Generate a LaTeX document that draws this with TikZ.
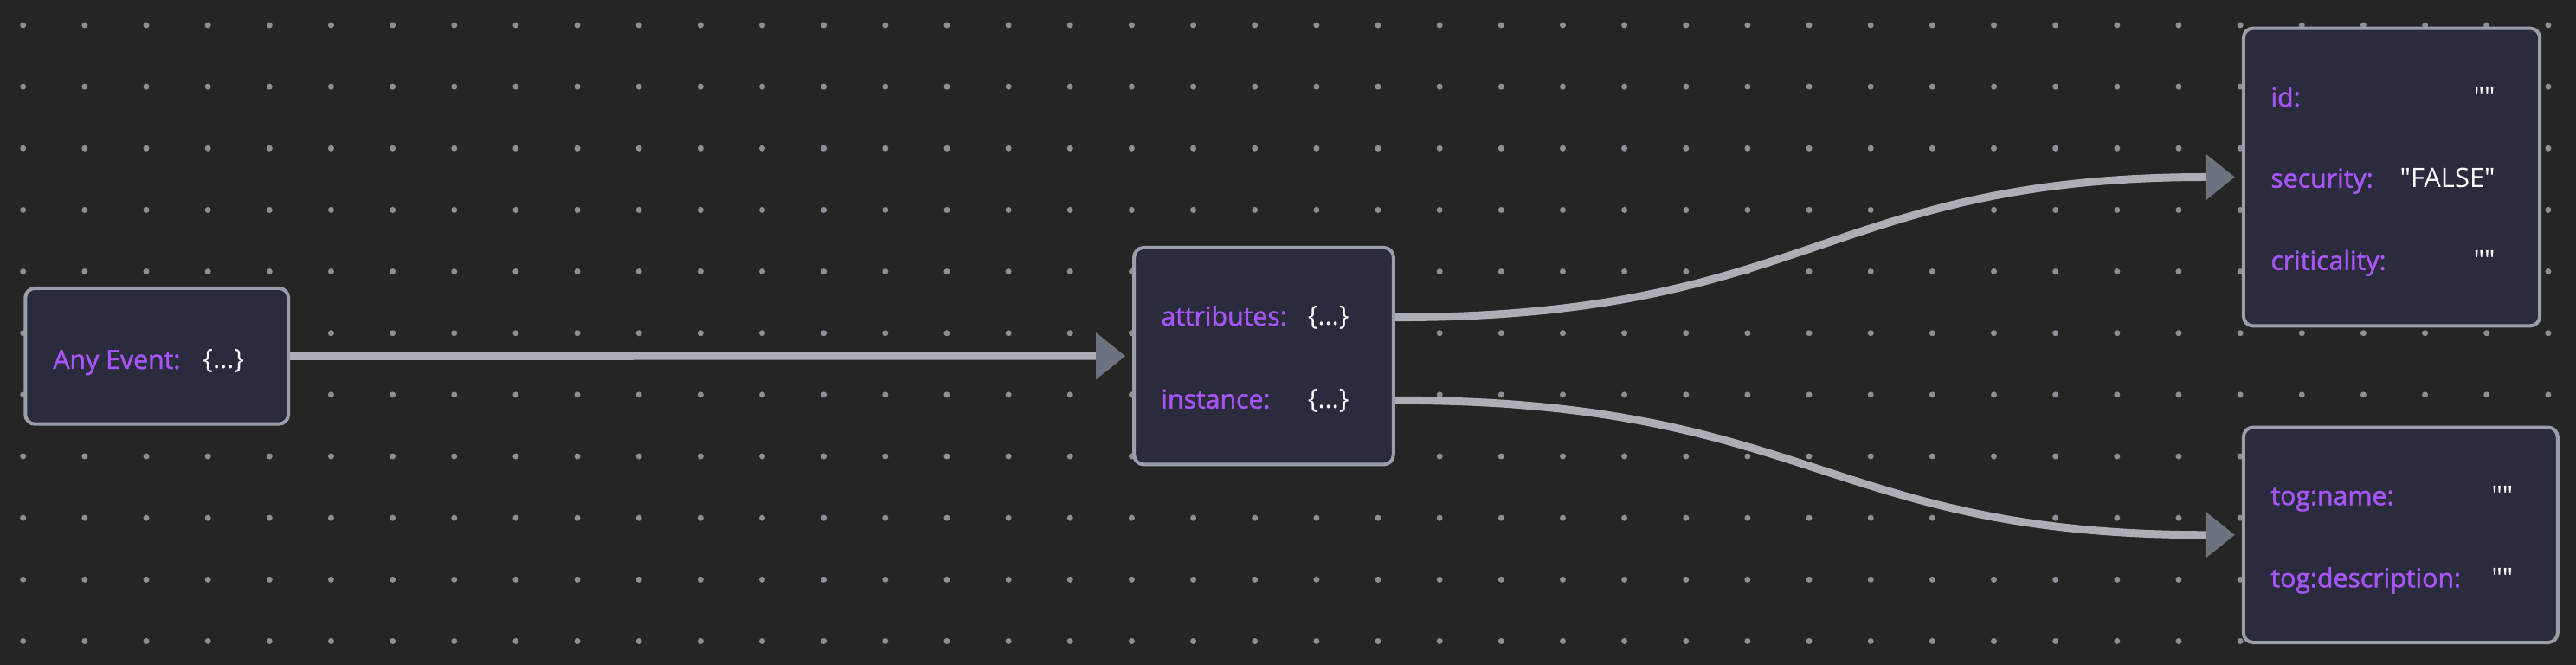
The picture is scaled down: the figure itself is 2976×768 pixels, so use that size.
\documentclass[tikz,border=0pt]{standalone}
\usepackage{fontspec}
\setmainfont{Open Sans}[Ligatures=TeXOff]
\newfontfamily\keyfont{Open Sans}[Ligatures=TeXOff, FakeBold=1.4]
\usetikzlibrary{arrows.meta}

\definecolor{canvas}{HTML}{252525}
\definecolor{griddot}{HTML}{8E8E96}
\definecolor{cardfill}{HTML}{2A2B3D}
\definecolor{cardline}{HTML}{9A9EAB}
\definecolor{keycol}{HTML}{A855F7}
\definecolor{linkcol}{HTML}{ADADB5}
\definecolor{tipcol}{HTML}{6B7280}

\tikzset{
  card/.style={draw=cardline, fill=cardfill, line width=0.04cm, rounded corners=0.11cm, inner sep=0pt},
  key/.style={anchor=base west, text=keycol, inner sep=0pt, font=\keyfont\fontsize{8.6pt}{10pt}\selectfont},
  val/.style={anchor=base east, text=white, inner sep=0pt, font=\fontsize{8.8pt}{10pt}\selectfont},
  link/.style={line width=0.09cm, draw=linkcol, shorten >=0.08cm,
    -{Triangle[length=0.34cm, width=0.52cm, color=tipcol]}}
}

\begin{document}
\begin{tikzpicture}[x=0.01cm, y=-0.01cm]
    % 1. Canvas
    \fill[canvas] (0,0) rectangle (2976,768);
    \useasboundingbox (0,0) rectangle (2976,768);

    % 2. Dot grid
    \foreach \i in {0,...,41}
        \foreach \j in {0,...,10}
            \fill[griddot] ({26.7+71.15*\i}, {29+71.15*\j}) circle (0.035cm);

    % 3. Cards
    \node[card, minimum width=3.037cm, minimum height=1.567cm] (event) at (181.2, 411.3) {};
    \node[card, minimum width=2.994cm, minimum height=2.503cm] (body) at (1460, 411.2) {};
    \node[card, minimum width=3.42cm, minimum height=3.436cm] (attrs) at (2763, 204.5) {};
    \node[card, minimum width=3.627cm, minimum height=2.483cm] (inst) at (2773.3, 617.8) {};

    % 4. Rows: keys and values
    % Any Event
    \node[key] (eventK) at (60.7, 426) {Any Event:};
    \node[val] (eventV) at (282.7, 426) {\{…\}};
    % attributes / instance
    \node[key] (attrK) at (1340.7, 376) {attributes:};
    \node[val] (attrV) at (1559.3, 376) {\{…\}};
    \node[key] (instK) at (1340.7, 471.7) {instance:};
    \node[val] (instV) at (1559.3, 471.7) {\{…\}};
    % id / security / criticality
    \node[key] (idK) at (2622.7, 123) {id:};
    \node[val] (idV) at (2883.3, 123) {""};
    \node[key] (secK) at (2622.7, 216.7) {security:};
    \node[val] (secV) at (2883.3, 216.7) {"FALSE"};
    \node[key] (critK) at (2622.7, 311.7) {criticality:};
    \node[val] (critV) at (2883.3, 311.7) {""};
    % tog:name / tog:description
    \node[key] (nameK) at (2622.7, 583.3) {tog:name:};
    \node[val] (nameV) at (2904, 583.3) {""};
    \node[key] (descK) at (2622.7, 678.3) {tog:description:};
    \node[val] (descV) at (2904, 678.3) {""};

    % 5. Links
    \draw[link] (event.east) -- (body.west);
    \draw[link] (body.east |- attrK.mid) .. controls +(480,0) and +(-480,0) .. (attrs.west);
    \draw[link] (body.east |- instK.mid) .. controls +(480,0) and +(-480,0) .. (inst.west);
\end{tikzpicture}
\end{document}
